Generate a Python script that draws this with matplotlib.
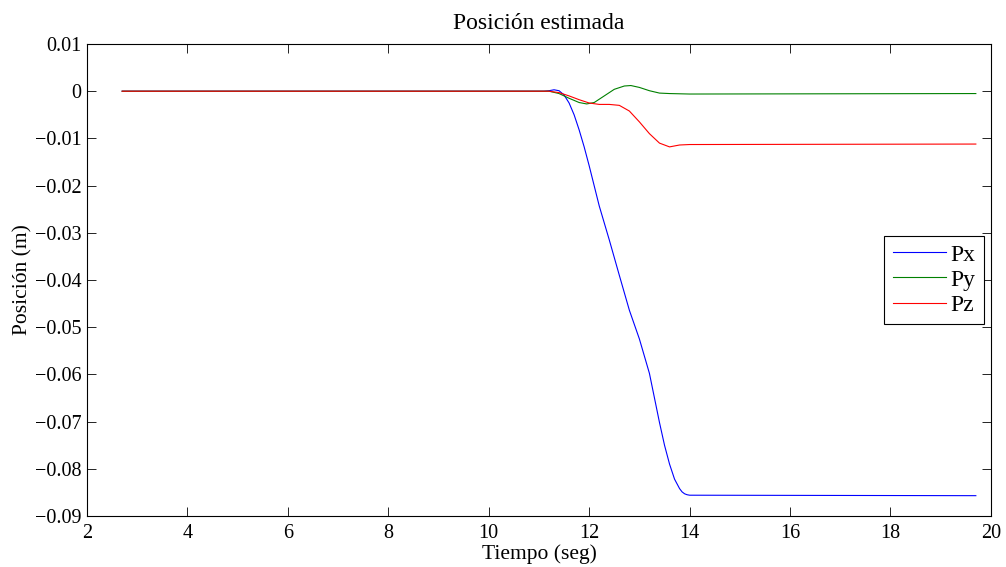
import matplotlib.pyplot as plt
from matplotlib.ticker import FuncFormatter

plt.rcParams['font.family'] = ['Liberation Serif', 'DejaVu Serif']

# time samples (s) and estimated positions (m)
t_x = [2.7, 11.1, 11.2, 11.3, 11.4, 11.5, 11.6, 11.7, 11.8, 11.9, 12.0, 12.2, 12.4,
       12.6, 12.8, 13.0, 13.2, 13.4, 13.5, 13.6, 13.7, 13.8, 13.85, 13.9, 13.95,
       14.0, 19.7]
px = [0.0, 0.0, 0.0001, 0.0003, 0.0001, -0.0008, -0.0025, -0.005, -0.0082, -0.0118,
      -0.0158, -0.0243, -0.0315, -0.039, -0.0464, -0.0525, -0.0598, -0.0702, -0.0750,
      -0.0790, -0.0822, -0.0842, -0.0849, -0.0853, -0.0855, -0.0856, -0.0857]

t_y = [2.7, 11.2, 11.4, 11.6, 11.8, 11.95, 12.1, 12.3, 12.5, 12.7, 12.83, 13.0,
       13.2, 13.4, 13.6, 14.0, 19.7]
py = [0.0, 0.0, -0.0005, -0.0015, -0.0024, -0.0027, -0.0024, -0.001, 0.0004,
      0.0011, 0.0012, 0.0008, 0.0001, -0.0004, -0.0005, -0.0006, -0.0005]

t_z = [2.7, 11.2, 11.4, 11.6, 11.8, 12.0, 12.2, 12.4, 12.6, 12.8, 13.0, 13.2,
       13.4, 13.6, 13.8, 14.0, 19.7]
pz = [0.0, 0.0, -0.0003, -0.001, -0.0018, -0.0025, -0.0028, -0.0028, -0.003,
      -0.0042, -0.0065, -0.009, -0.011, -0.0118, -0.0114, -0.0113, -0.0112]

fig = plt.figure(figsize=(10.06, 5.67), dpi=100)
ax = fig.add_axes([0.0865, 0.0900, 0.8985, 0.8324])

ax.plot(t_x, px, color=(0, 0, 1), lw=0.8, label='Px')
ax.plot(t_y, py, color=(0, 0.5, 0), lw=0.8, label='Py')
ax.plot(t_z, pz, color=(1, 0, 0), lw=0.8, label='Pz')

ax.set_xlim(2, 20)
ax.set_ylim(-0.09, 0.01)
ax.set_xticks(range(2, 21, 2))
ax.set_yticks([0.01 - 0.01 * i for i in range(11)])
ax.yaxis.set_major_formatter(FuncFormatter(
    lambda v, pos: ('%g' % round(v, 3)).replace('-', '\u2212')))

ax.tick_params(direction='in', top=True, right=True, length=6.5, width=0.6,
               labelsize=14.5)
ax.tick_params(axis='x', pad=6)
ax.tick_params(axis='y', pad=4)
for s in ax.spines.values():
    s.set_linewidth(0.8)

ax.set_title('Posición estimada', fontsize=17, pad=11)
ax.set_xlabel('Tiempo (seg)', fontsize=15.5, labelpad=1)
ax.set_ylabel('Posición (m)', fontsize=15.5, labelpad=2)

leg = ax.legend(loc='center right', fontsize=17, fancybox=False, framealpha=1,
                edgecolor='black', borderpad=0.35, handlelength=2.25,
                handletextpad=0.2, labelspacing=0.15, borderaxespad=0.3)
leg.get_frame().set_linewidth(0.8)

fig.savefig('out.png', dpi=100)
